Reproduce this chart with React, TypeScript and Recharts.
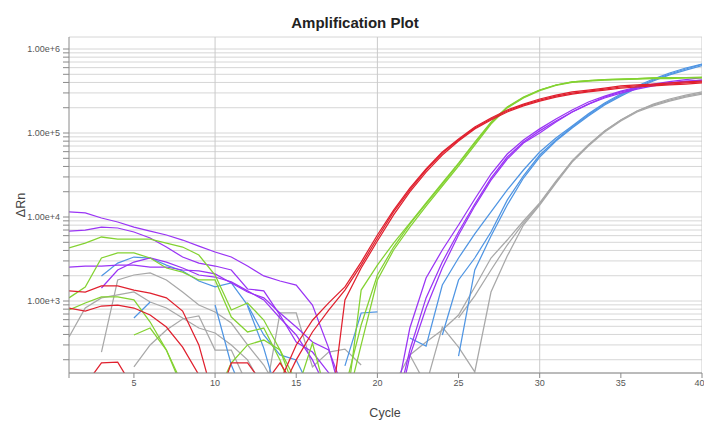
import React from 'react';
import { LineChart, Line, XAxis, YAxis, CartesianGrid, ReferenceLine } from 'recharts';

const cycles = [1,2,3,4,5,6,7,8,9,10,11,12,13,14,15,16,17,18,19,20,21,22,23,24,25,26,27,28,29,30,31,32,33,34,35,36,37,38,39,40];
const xTicks = [1,5,10,15,20,25,30,35,40];
const xGridCycles = [10,20,30,40];
const yTicks = [200,300,400,500,600,700,800,900,1000,2000,3000,4000,5000,6000,7000,8000,9000,10000,20000,30000,40000,50000,60000,70000,80000,90000,100000,200000,300000,400000,500000,600000,700000,800000,900000,1000000];
const yLabelled = [1000,10000,100000,1000000];
const yDomain = [139, 1390000];

const red1 = [1320,1280,1510,1510,1350,1240,1090,760,300,60, 50,60,70,110,300,590,950,1470,2910,6110, 12100,22100,37300,59400,84800,118000,151000,188000,221000,254000, 283000,308000,325000,343000,363000,373000,383000,394000,405000,416000];
const red2 = [825,760,872,896,825,681,490,283,132,50, 40,50,60,80,199,428,781,1350,2680,5620, 11500,21000,36300,57800,82500,115000,147000,183000,216000,247000, 275000,299000,316000,334000,353000,363000,373000,383000,394000,405000];
const red3 = [null,100,183,187,90,60,50,50,50,50, 183,183,100,183,90,70,30,1030,2470,5180, 10600,19900,34300,54700,80300,112000,143000,178000,210000,240000, 268000,291000,308000,325000,343000,353000,363000,373000,383000,394000];

const green1 = [4280,4900,5780,5470,5470,5470,4900,4390,3530,2040, 781,947,594,261,80,316,60,40,1350,2680, 4900,8480,14700,25400,43900,78100,135000,204000,268000,325000, 373000,405000,421000,433000,439000,445000,452000,452000,458000,458000];
const green2 = [1090,1470,3250,3730,3730,3250,2470,2210,1780,1780, 645,428,477,199,60,50,60,50,300,1780, 4050,7600,13500,23400,40500,72000,128000,199000,261000,320000, 368000,400000,416000,427000,433000,439000,445000,445000,452000,452000];
const green3 = [781,947,1120,1120,1030,562,261,90,60,70, 183,300,343,261,110,70,60,90,518,2040, 4390,8250,14300,24700,42800,76000,132000,202000,265000,325000, 373000,405000,421000,433000,439000,445000,452000,458000,458000,464000];
const green4 = [null,null,null,null,394,477,261,100,null,null, null,null,null,null,null,null,null,null,null,null, null,null,null,null,null,null,null,null,null,null, null,null,null,null,null,null,null,null,null,null];

const purple1 = [11500,11200,9730,8720,7600,6810,6110,5320,4510,3830, 3340,2610,1990,1730,1550,896,275,50,40,40, 50,477,1880,4050,8030,16400,32500,56200,82500,112000, 147000,188000,234000,275000,316000,353000,383000,410000,433000,458000];
const purple2 = [6810,7000,7600,7400,6630,5620,4390,3340,2830,2610, 2340,1390,1320,681,325,247,140,60,40,40, 40,261,1090,2910,6630,14300,29100,51800,78100,106000, 139000,178000,221000,261000,299000,334000,363000,389000,410000,427000];
const purple3 = [2540,2610,2610,2680,2680,2540,2540,2340,2280,2100, 1640,1280,1090,720,490,325,261,80,40,30, 30,221,825,2470,6110,13500,27500,49000,76000,100000, 135000,178000,221000,268000,308000,343000,373000,394000,416000,427000];
const purple4 = [null,null,1430,2340,2910,3250,2910,2470,2040,1930, 1690,1320,1030,628,394,199,80,50,null,null, null,null,null,null,null,null,null,null,null,null, null,null,null,null,null,null,null,null,null,null];

const blue1 = [null,null,1990,2830,3340,3250,2680,2280,1730,1470, 1640,896,394,228,199,80,null,null,null,null, null,363,291,1550,3250,6280,11500,21000,36300,59400, 87200,121000,169000,228000,291000,363000,439000,518000,594000,663000];
const blue2 = [null,null,null,null,628,973,null,null,null,896, 173,60,null,null,null,null,null,169,720,740, null,null,null,394,1780,3250,6630,15900,30800,54700, 82500,118000,164000,221000,283000,353000,427000,504000,578000,655000];
const blue3 = [null,null,null,null,null,null,null,null,null,null, null,872,275,60,null,null,null,null,null,null, null,null,null,null,221,2340,5930,13900,29100,51800, 80300,115000,159000,216000,275000,343000,416000,491000,562000,636000];

const gray1 = [373,825,1090,1180,1280,973,825,628,477,416, 300,199,90,null,null,null,null,null,null,null, null,228,325,452,681,1470,3250,5320,8960,14700, 26800,46400,72000,106000,143000,183000,216000,247000,275000,299000];
const gray2 = [null,null,247,1780,2040,2160,1780,1280,896,740, 547,300,173,80,null,null,null,null,null,null, 100,228,100,490,283,143,1280,3430,8030,13900, 25400,45100,70000,103000,139000,178000,210000,240000,268000,291000];
const gray3 = [null,null,null,null,164,300,452,611,663,261, 261,100,60,720,720,164,247,268,173,null, null,null,null,null,628,1150,2340,4640,8480,14300, 26100,46400,72000,106000,143000,183000,221000,254000,283000,308000];

const RED = '#e0202e';
const GREEN = '#84d232';
const PURPLE = '#9a34f5';
const BLUE = '#4f95e3';
const GRAY = '#a8a8a8';

const series = [
  { key: 'gray1', values: gray1, color: GRAY },
  { key: 'gray2', values: gray2, color: GRAY },
  { key: 'gray3', values: gray3, color: GRAY },
  { key: 'blue1', values: blue1, color: BLUE },
  { key: 'blue2', values: blue2, color: BLUE },
  { key: 'blue3', values: blue3, color: BLUE },
  { key: 'purple1', values: purple1, color: PURPLE },
  { key: 'purple2', values: purple2, color: PURPLE },
  { key: 'purple3', values: purple3, color: PURPLE },
  { key: 'purple4', values: purple4, color: PURPLE },
  { key: 'green1', values: green1, color: GREEN },
  { key: 'green2', values: green2, color: GREEN },
  { key: 'green3', values: green3, color: GREEN },
  { key: 'green4', values: green4, color: GREEN },
  { key: 'red1', values: red1, color: RED },
  { key: 'red2', values: red2, color: RED },
  { key: 'red3', values: red3, color: RED },
];

const rows = cycles.map((c, i) => {
  const row: Record<string, number | null> = { cycle: c };
  series.forEach((s) => { row[s.key] = s.values[i]; });
  return row;
});

const FONT = '"Liberation Sans", Arial, sans-serif';

const fmtY = (v: number) => (yLabelled.includes(v) ? v.toExponential(2) : '');
const fmtX = (v: number) => (v === 1 ? '' : String(v));

export default function App() {
  return (
    <div style={{ position: 'absolute', left: 0, top: 0, width: 704, height: 421, background: '#fff', fontFamily: FONT }}>
      <div style={{ position: 'absolute', left: 0, width: 710, top: 14, textAlign: 'center', fontSize: 15, fontWeight: 'bold', color: '#222', lineHeight: '18px' }}>
        Amplification Plot
      </div>
      <LineChart width={704} height={421} data={rows} margin={{ top: 37, right: 2, bottom: 0, left: 0 }}>
        <CartesianGrid vertical={false} stroke="#d6d6d6" strokeWidth={1} />
        {xGridCycles.map((c) => (
          <ReferenceLine key={c} x={c} stroke="#cacaca" strokeWidth={1} ifOverflow="hidden" />
        ))}
        <XAxis
          dataKey="cycle"
          type="number"
          domain={[1, 40]}
          ticks={xTicks}
          tickFormatter={fmtX}
          allowDataOverflow
          height={48}
          tickSize={5}
          tickMargin={2}
          stroke="#8a8a8a"
          tick={{ fontSize: 9, fill: '#555', fontFamily: FONT }}
        />
        <YAxis
          scale="log"
          domain={yDomain}
          ticks={yTicks}
          tickFormatter={fmtY}
          allowDataOverflow
          width={69}
          tickSize={6}
          tickMargin={3}
          interval={0}
          stroke="#8a8a8a"
          tick={{ fontSize: 9, fill: '#555', fontFamily: FONT }}
        />
        {series.map((s) => (
          <Line
            key={s.key}
            dataKey={s.key}
            type="linear"
            stroke={s.color}
            strokeWidth={1.25}
            dot={false}
            activeDot={false}
            isAnimationActive={false}
            connectNulls={false}
          />
        ))}
      </LineChart>
      <div style={{ position: 'absolute', left: 355, top: 405, width: 60, textAlign: 'center', fontSize: 12.5, color: '#444', lineHeight: '16px' }}>
        Cycle
      </div>
      <div style={{ position: 'absolute', left: 21, top: 205, width: 0, height: 0 }}>
        <div style={{ position: 'absolute', left: -30, top: -8, width: 60, textAlign: 'center', fontSize: 12.5, color: '#444', lineHeight: '16px', transform: 'rotate(-90deg)' }}>
          ΔRn
        </div>
      </div>
    </div>
  );
}
